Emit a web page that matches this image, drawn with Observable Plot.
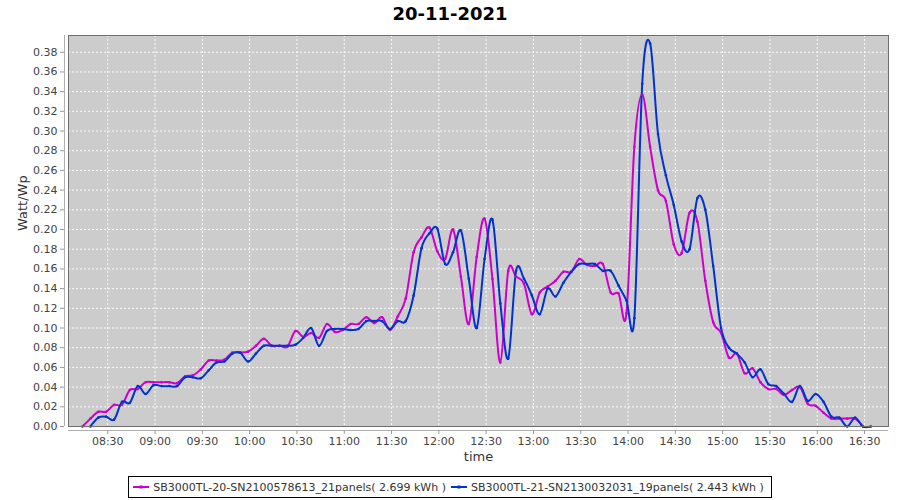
<!DOCTYPE html>
<html><head><meta charset="utf-8">
<script src="https://cdn.jsdelivr.net/npm/d3@7"></script>
<script src="https://cdn.jsdelivr.net/npm/@observablehq/plot@0.6"></script>
<style>
body{margin:0;background:#fff;font-family:"DejaVu Sans",sans-serif;}
#wrap{position:relative;width:900px;height:500px;overflow:hidden;}
#title{position:absolute;left:0;top:0;width:900px;height:28px;text-align:center;font-weight:bold;font-size:18px;line-height:28px;color:#000;}
#chart{position:absolute;left:0;top:28px;}
#legend{position:absolute;top:476px;left:0;width:900px;display:flex;justify-content:center;}
#legend .box{display:flex;align-items:center;border:1px solid #000;height:20px;padding:0 3px;font-size:11px;color:#333;background:#fff;}
#legend .item{display:flex;align-items:center;margin-right:4px;}
#legend svg{margin-right:3px;}
</style></head>
<body><div id="wrap"><div id="title"></div><div id="chart"></div><div id="legend"></div></div>
<script>
const chartTitle = "20-11-2021";
const yLabel = "Watt/Wp";
const xLabel = "time";
const seriesNames = ["SB3000TL-20-SN2100578613_21panels( 2.699 kWh )", "SB3000TL-21-SN2130032031_19panels( 2.443 kWh )"];
const seriesColors = ["#cc00cc", "#0033cc"];

const times = [
"08:14","08:19","08:24","08:29","08:34","08:39","08:44","08:49","08:54","08:59",
"09:04","09:09","09:14","09:19","09:24","09:29","09:34","09:39","09:44","09:49","09:54","09:59",
"10:04","10:09","10:14","10:19","10:24","10:29","10:34","10:39","10:44","10:49","10:54","10:59",
"11:04","11:09","11:14","11:19","11:24","11:29","11:34","11:39","11:44","11:49","11:54","11:59",
"12:04","12:09","12:14","12:19","12:24","12:29","12:34","12:39","12:44","12:49","12:54","12:59",
"13:04","13:09","13:14","13:19","13:24","13:29","13:34","13:39","13:44","13:49","13:54","13:59",
"14:04","14:09","14:14","14:19","14:24","14:29","14:34","14:39","14:44","14:49","14:54","14:59",
"15:04","15:09","15:14","15:19","15:24","15:29","15:34","15:39","15:44","15:49","15:54","15:59",
"16:04","16:09","16:14","16:19","16:24","16:29","16:34"];

const sb20 = [
0, 0.008, 0.015, 0.015, 0.022, 0.022, 0.037, 0.038, 0.045, 0.045,
0.045, 0.045, 0.044, 0.051, 0.052, 0.058, 0.067, 0.067, 0.068, 0.075, 0.075, 0.076,
0.082, 0.089, 0.082, 0.082, 0.081, 0.097, 0.091, 0.095, 0.090, 0.104, 0.096, 0.098,
0.104, 0.104, 0.111, 0.105, 0.111, 0.098, 0.112, 0.130, 0.177, 0.192, 0.202, 0.178,
0.170, 0.200, 0.152, 0.104, 0.172, 0.211, 0.150, 0.065, 0.158, 0.152, 0.145, 0.114,
0.136, 0.142, 0.148, 0.157, 0.157, 0.170, 0.164, 0.163, 0.165, 0.136, 0.135, 0.115,
0.284, 0.337, 0.284, 0.240, 0.229, 0.185, 0.176, 0.217, 0.208, 0.148, 0.106, 0.095,
0.070, 0.074, 0.054, 0.059, 0.045, 0.038, 0.038, 0.032, 0.037, 0.040, 0.023, 0.021,
0.014, 0.008, 0.008, 0.008, 0.008, 0, null];

const sb21 = [
null, 0, 0.009, 0.010, 0.007, 0.025, 0.024, 0.041, 0.033, 0.042,
0.041, 0.041, 0.041, 0.050, 0.050, 0.049, 0.057, 0.065, 0.066, 0.074, 0.075, 0.066,
0.074, 0.082, 0.082, 0.082, 0.082, 0.083, 0.090, 0.100, 0.082, 0.097, 0.099, 0.099,
0.098, 0.099, 0.107, 0.107, 0.107, 0.099, 0.107, 0.107, 0.133, 0.181, 0.196, 0.201,
0.165, 0.177, 0.199, 0.150, 0.100, 0.170, 0.210, 0.125, 0.069, 0.158, 0.150, 0.133,
0.114, 0.140, 0.132, 0.146, 0.157, 0.165, 0.165, 0.165, 0.158, 0.158, 0.143, 0.128,
0.110, 0.348, 0.389, 0.297, 0.255, 0.225, 0.188, 0.180, 0.232, 0.220, 0.163, 0.100,
0.080, 0.074, 0.065, 0.050, 0.058, 0.043, 0.041, 0.033, 0.025, 0.041, 0.026, 0.033,
0.025, 0.010, 0.009, 0.000, 0.009, 0.000, 0.000];

const xTickLabels = ["08:30","09:00","09:30","10:00","10:30","11:00","11:30","12:00","12:30","13:00","13:30","14:00","14:30","15:00","15:30","16:00","16:30"];
const yTicks = [0,0.02,0.04,0.06,0.08,0.10,0.12,0.14,0.16,0.18,0.20,0.22,0.24,0.26,0.28,0.30,0.32,0.34,0.36,0.38];
const xRange = ["08:05:06", "16:45:12"];
const yMax = 0.397;

const toDate = s => { const p = s.split(":").map(Number); return new Date(Date.UTC(2021, 10, 20, p[0], p[1], p[2] || 0)); };
const xTicks = xTickLabels.map(toDate);
const rows = [];
[sb20, sb21].forEach((vals, k) => vals.forEach((v, i) => rows.push({time: toDate(times[i]), value: v, series: seriesNames[k]})));
const lineOf = k => rows.filter(d => d.series === seriesNames[k]);

document.getElementById("title").textContent = chartTitle;

const grid = {stroke: "#ffffff", strokeOpacity: 0.9, strokeDasharray: "2,2", strokeWidth: 1};
const chart = Plot.plot({
  width: 900, height: 442,
  marginTop: 7, marginBottom: 44, marginLeft: 68, marginRight: 12,
  style: {fontFamily: "'DejaVu Sans', sans-serif", fontSize: "11px", background: "transparent"},
  x: {type: "utc", domain: xRange.map(toDate)},
  y: {domain: [0, yMax]},
  marks: [
    Plot.frame({fill: "#cccccc"}),
    Plot.gridX(xTicks, grid),
    Plot.gridY(yTicks, grid),
    ...[0, 1].map(k => Plot.line(lineOf(k), {x: "time", y: "value", stroke: seriesColors[k], strokeWidth: 2, curve: "cardinal", tension: 0})),
    ...[0, 1].map(k => Plot.dot(lineOf(k).filter(d => d.value != null), {x: "time", y: "value", fill: seriesColors[k], r: 1.3})),
    Plot.frame({stroke: "#6e6e6e"}),
    Plot.ruleX([toDate(xRange[0])], {dx: -4, stroke: "#b0b0b0"}),
    Plot.ruleY([0], {dy: 4, stroke: "#b0b0b0"}),
    Plot.axisY(yTicks, {dx: -4, tickSize: 4, tickPadding: 3, tickFormat: d3.format(".2f"), stroke: "#999", fill: "#444", label: null}),
    Plot.axisX(xTicks, {dy: 4, tickSize: 4, tickPadding: 3, tickFormat: d3.utcFormat("%H:%M"), stroke: "#999", fill: "#444", label: null}),
    Plot.text([xLabel], {frameAnchor: "bottom", dy: 34, fontSize: 13, fill: "#333"}),
    Plot.text([yLabel], {frameAnchor: "left", dx: -46, rotate: -90, fontSize: 13, fill: "#333"})
  ]
});
document.getElementById("chart").appendChild(chart);

const box = document.createElement("div");
box.className = "box";
seriesNames.forEach((name, k) => {
  const item = document.createElement("div");
  item.className = "item";
  item.innerHTML = `<svg width="18" height="8"><line x1="1" y1="4" x2="17" y2="4" stroke="${seriesColors[k]}" stroke-width="2"/><rect x="7.5" y="2.5" width="3" height="3" fill="${seriesColors[k]}"/></svg>`;
  const span = document.createElement("span");
  span.textContent = name;
  item.appendChild(span);
  box.appendChild(item);
});
document.getElementById("legend").appendChild(box);
</script></body></html>
